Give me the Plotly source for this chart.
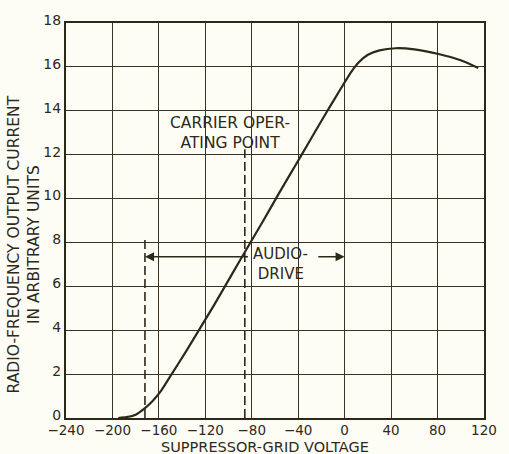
import plotly.graph_objects as go

# Data
grid_voltage = [-195, -188, -180, -172, -165, -158, -149, -137, -125, -113, -102, -90,
                -80, -70, -57, -47, -37, -26, -16, -8, 0, 6, 12, 20, 30, 44, 60, 80, 100, 115]
rf_current = [0.0, 0.04, 0.15, 0.45, 0.8, 1.25, 2.0, 3.0, 4.05, 5.1, 6.1, 7.2,
              8.1, 9.0, 10.2, 11.1, 12.0, 13.0, 13.9, 14.6, 15.3, 15.8, 16.2, 16.55, 16.75,
              16.85, 16.8, 16.6, 16.3, 15.95]

x_ticks = [-240, -200, -160, -120, -80, -40, 0, 40, 80, 120]
y_ticks = [0, 2, 4, 6, 8, 10, 12, 14, 16, 18]

carrier_voltage = -86
carrier_top = 12.25
drive_low_voltage = -172
drive_low_top = 8.2
drive_high_voltage = 0
drive_level = 7.35
drive_text_left = -82
drive_text_right = -24

ink = "#2e2818"
grid_ink = "#3a3324"
bg = "#fdfdf6"
font_family = "DejaVu Sans"
fs = 14

fig = go.Figure()

# vertical dashed marker lines
fig.add_trace(go.Scatter(x=[drive_low_voltage, drive_low_voltage], y=[0, drive_low_top],
                         mode="lines", line=dict(color=ink, width=1.6, dash="9px,4px"),
                         hoverinfo="skip", showlegend=False))
fig.add_trace(go.Scatter(x=[carrier_voltage, carrier_voltage], y=[0, carrier_top],
                         mode="lines", line=dict(color=ink, width=1.6, dash="9px,4px"),
                         hoverinfo="skip", showlegend=False))

# main curve
fig.add_trace(go.Scatter(x=grid_voltage, y=rf_current, mode="lines",
                         line=dict(color=ink, width=2.2, shape="spline", smoothing=0.6),
                         hoverinfo="skip", showlegend=False))

annotations = [
    # left arrow (points left)
    dict(x=drive_low_voltage, y=drive_level, ax=drive_text_left, ay=drive_level,
         xref="x", yref="y", axref="x", ayref="y", text="", showarrow=True,
         arrowhead=2, arrowsize=1.3, arrowwidth=1.4, arrowcolor=ink, standoff=0),
    # right arrow (points right)
    dict(x=drive_high_voltage, y=drive_level, ax=drive_text_right, ay=drive_level,
         xref="x", yref="y", axref="x", ayref="y", text="", showarrow=True,
         arrowhead=2, arrowsize=1.3, arrowwidth=1.4, arrowcolor=ink, standoff=0),
    dict(x=drive_text_left + 1, y=drive_level, xref="x", yref="y", xanchor="left",
         yanchor="middle", yshift=-7, text="AUDIO-<br> DRIVE", showarrow=False, align="left",
         font=dict(family=font_family, size=15, color=ink)),
    dict(x=-99, y=13.0, xref="x", yref="y", xanchor="center", yanchor="middle",
         text="CARRIER OPER-<br>ATING POINT", showarrow=False, align="center",
         font=dict(family=font_family, size=15.5, color=ink)),
    # axis titles
    dict(x=-0.1, y=0.44, xref="paper", yref="paper", xanchor="center", yanchor="middle",
         text="RADIO-FREQUENCY OUTPUT CURRENT<br>IN ARBITRARY UNITS", showarrow=False,
         textangle=-90, align="center",
         font=dict(family=font_family, size=15.5, color=ink)),
    dict(x=0.477, y=0, xref="paper", yref="paper", xanchor="center", yanchor="top",
         yshift=-19, text="SUPPRESSOR-GRID VOLTAGE", showarrow=False,
         font=dict(family=font_family, size=14.5, color=ink)),
]

fig.update_layout(
    width=509, height=454,
    margin=dict(l=66, r=24, t=14, b=36),
    paper_bgcolor=bg, plot_bgcolor=bg,
    annotations=annotations,
    font=dict(family=font_family, size=fs, color=ink),
)
fig.update_xaxes(range=[-240, 120], tickvals=x_ticks,
                 ticktext=[str(v).replace("-", "\u2212") for v in x_ticks],
                 showgrid=True, gridcolor=grid_ink, gridwidth=1.2,
                 showline=True, linecolor=ink, linewidth=2, mirror=True,
                 zeroline=False, ticks="", ticklabelstandoff=-1,
                 tickfont=dict(family=font_family, size=13.5, color=ink))
fig.update_yaxes(range=[0, 18], tickvals=y_ticks,
                 showgrid=True, gridcolor=grid_ink, gridwidth=1.2,
                 showline=True, linecolor=ink, linewidth=2, mirror=True,
                 zeroline=False, ticks="", ticklabelshift=-3,
                 tickfont=dict(family=font_family, size=fs, color=ink))

fig.write_html("out.html")
